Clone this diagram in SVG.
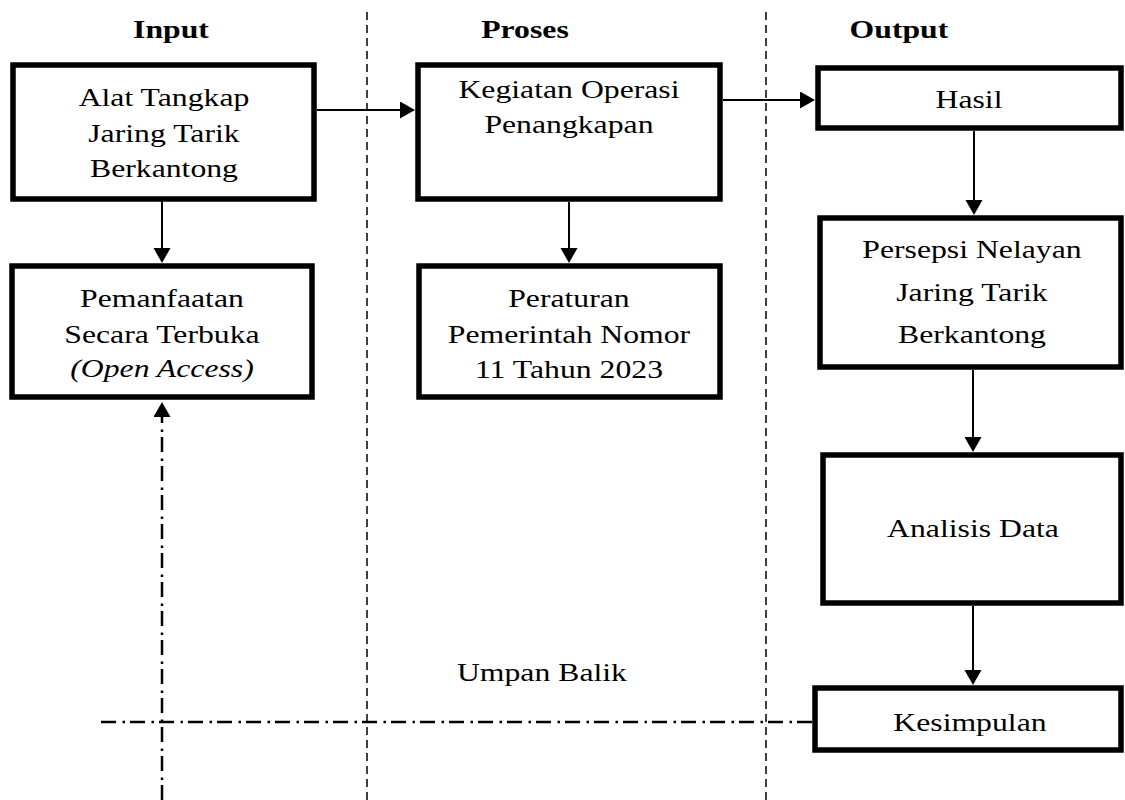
<svg xmlns="http://www.w3.org/2000/svg" width="1125" height="800" viewBox="0 0 1125 800">
  <style>
    .box { fill: #ffffff; stroke: #000000; stroke-width: 5.5; }
    .t { font-family: "Liberation Serif", "Times New Roman", serif; font-size: 26px; fill: #000000; text-anchor: middle; transform-box: fill-box; transform-origin: center; transform: scaleX(1.22); }
    .h { font-weight: bold; }
    .i { font-style: italic; }
    .arrow { fill: none; stroke: #000000; stroke-width: 2; marker-end: url(#ah); }
    .col { fill: none; stroke: #000000; stroke-width: 1.5; stroke-dasharray: 8 5; }
    .fb { fill: none; stroke: #000000; stroke-width: 2.5; stroke-dasharray: 15 5 2.5 6.5; }
  </style>
  <defs>
    <marker id="ah" markerUnits="userSpaceOnUse" markerWidth="16" markerHeight="18" refX="0" refY="8.5" orient="auto">
      <path d="M0,0 L15,8.5 L0,17 Z" fill="#000000"/>
    </marker>
  </defs>
  <rect width="1125" height="800" fill="#ffffff"/>

  <g id="column-dividers">
    <line class="col" x1="367" y1="12" x2="367" y2="800"/>
    <line class="col" x1="766" y1="12" x2="766" y2="800"/>
  </g>

  <g id="headers">
    <text class="t h" x="171" y="38">Input</text>
    <text class="t h" x="525" y="38">Proses</text>
    <text class="t h" x="899" y="38">Output</text>
  </g>

  <g id="connectors">
    <path class="arrow" d="M317,110 L400,110"/>
    <path class="arrow" d="M723,100 L800,100"/>
    <path class="arrow" d="M162,201 L162,248"/>
    <path class="arrow" d="M569,202 L569,248"/>
    <path class="arrow" d="M974,131 L974,200"/>
    <path class="arrow" d="M973,370 L973,437"/>
    <path class="arrow" d="M973,606 L973,670"/>
    <path class="fb" d="M812,722 L100,722"/>
    <path class="fb" d="M162,800 L162,417" marker-end="url(#ah)"/>
  </g>

  <g id="node-alat">
    <rect class="box" x="13" y="65" width="301" height="134"/>
    <text class="t" x="164" y="106">Alat Tangkap</text>
    <text class="t" x="164" y="142">Jaring Tarik</text>
    <text class="t" x="164" y="177">Berkantong</text>
  </g>

  <g id="node-kegiatan">
    <rect class="box" x="418" y="65" width="302" height="134"/>
    <text class="t" x="569" y="98">Kegiatan Operasi</text>
    <text class="t" x="569" y="133">Penangkapan</text>
  </g>

  <g id="node-hasil">
    <rect class="box" x="818" y="68" width="303" height="60"/>
    <text class="t" x="969" y="108">Hasil</text>
  </g>

  <g id="node-pemanfaatan">
    <rect class="box" x="12" y="266" width="300" height="131"/>
    <text class="t" x="162" y="307">Pemanfaatan</text>
    <text class="t" x="162" y="343">Secara Terbuka</text>
    <text class="t i" x="162" y="377">(Open Access)</text>
  </g>

  <g id="node-peraturan">
    <rect class="box" x="419" y="266" width="301" height="131"/>
    <text class="t" x="569" y="307">Peraturan</text>
    <text class="t" x="569" y="343">Pemerintah Nomor</text>
    <text class="t" x="569" y="378">11 Tahun 2023</text>
  </g>

  <g id="node-persepsi">
    <rect class="box" x="820" y="218" width="301" height="149"/>
    <text class="t" x="972" y="258">Persepsi Nelayan</text>
    <text class="t" x="972" y="301">Jaring Tarik</text>
    <text class="t" x="972" y="343">Berkantong</text>
  </g>

  <g id="node-analisis">
    <rect class="box" x="823" y="455" width="298" height="148"/>
    <text class="t" x="973" y="537">Analisis Data</text>
  </g>

  <g id="node-kesimpulan">
    <rect class="box" x="815" y="688" width="306" height="62"/>
    <text class="t" x="970" y="731">Kesimpulan</text>
  </g>

  <g id="label-umpan-balik">
    <text class="t" x="542" y="681">Umpan Balik</text>
  </g>
</svg>
